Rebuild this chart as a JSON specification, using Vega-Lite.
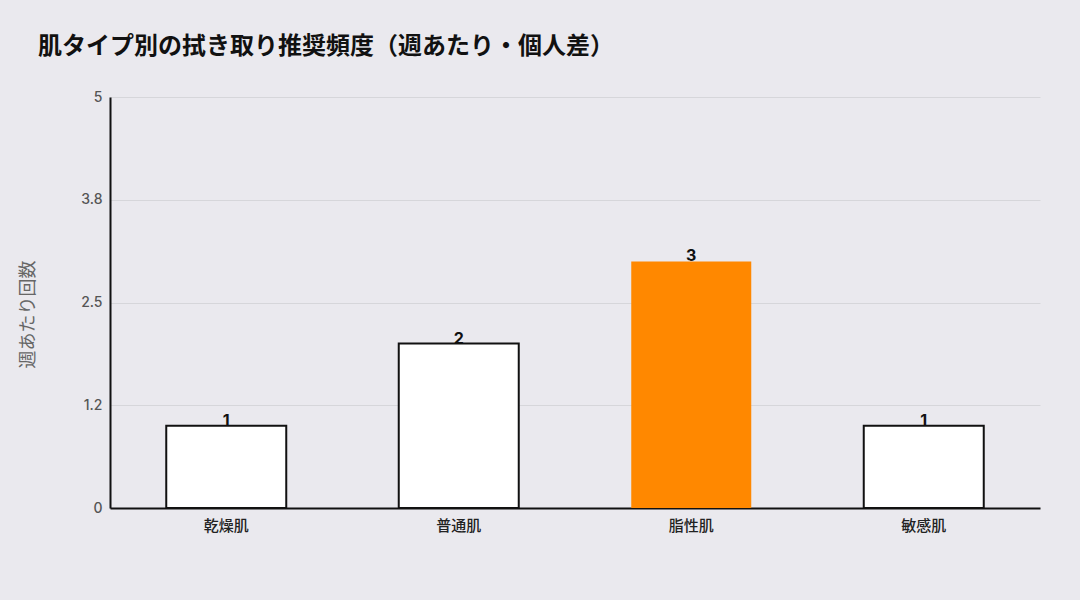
{
  "$schema": "https://vega.github.io/schema/vega-lite/v6.json",
  "autosize": {"type": "none"},
  "width": 930,
  "height": 411,
  "padding": {"left": 110, "top": 97, "right": 40, "bottom": 92},
  "background": "#EAE9EE",
  "title": {
    "text": "肌タイプ別の拭き取り推奨頻度（週あたり・個人差）",
    "anchor": "start",
    "frame": "group",
    "dx": -72,
    "offset": 31,
    "fontSize": 24,
    "fontWeight": "bold",
    "font": "Noto Sans CJK JP",
    "color": "#111111"
  },
  "data": {
    "values": [
      {"type": "乾燥肌", "count": 1},
      {"type": "普通肌", "count": 2},
      {"type": "脂性肌", "count": 3},
      {"type": "敏感肌", "count": 1}
    ]
  },
  "encoding": {
    "x": {
      "field": "type",
      "type": "nominal",
      "sort": null,
      "title": null,
      "scale": {"paddingInner": 0.48, "paddingOuter": 0.24},
      "axis": {
        "labelAngle": 0,
        "labelFontSize": 15,
        "labelFontWeight": 500,
        "labelColor": "#222222",
        "labelPadding": 10,
        "ticks": false,
        "domainColor": "#111111",
        "domainWidth": 2,
        "grid": false
      }
    },
    "y": {
      "field": "count",
      "type": "quantitative",
      "title": "週あたり回数",
      "scale": {"domain": [0, 5]},
      "axis": {
        "values": [0, 1.25, 2.5, 3.75, 5],
        "labelExpr": "datum.value == 1.25 ? '1.2' : datum.value == 3.75 ? '3.8' : format(datum.value, '~g')",
        "labelFontSize": 14,
        "labelFontWeight": 500,
        "labelColor": "#555555",
        "labelPadding": 8,
        "ticks": false,
        "domainColor": "#111111",
        "domainWidth": 2,
        "gridColor": "#D6D6DA",
        "gridWidth": 1,
        "titleFontSize": 18,
        "titleFontWeight": "normal",
        "titleColor": "#666666",
        "titleX": -82,
        "titleY": 217,
        "titleAlign": "center",
        "titleBaseline": "middle"
      }
    }
  },
  "layer": [
    {
      "mark": {"type": "bar", "size": 120, "stroke": "#111111", "strokeWidth": 2},
      "encoding": {
        "color": {
          "condition": {"test": "datum.type === '脂性肌'", "value": "#FF8800"},
          "value": "#FFFFFF"
        },
        "strokeOpacity": {
          "condition": {"test": "datum.type === '脂性肌'", "value": 0},
          "value": 1
        }
      }
    },
    {
      "mark": {"type": "text", "baseline": "bottom", "dy": 3, "fontSize": 16, "fontWeight": "bold", "color": "#111111"},
      "encoding": {
        "text": {"field": "count", "type": "quantitative"}
      }
    }
  ],
  "config": {
    "font": "Inter, Noto Sans CJK JP",
    "view": {"stroke": null}
  }
}
